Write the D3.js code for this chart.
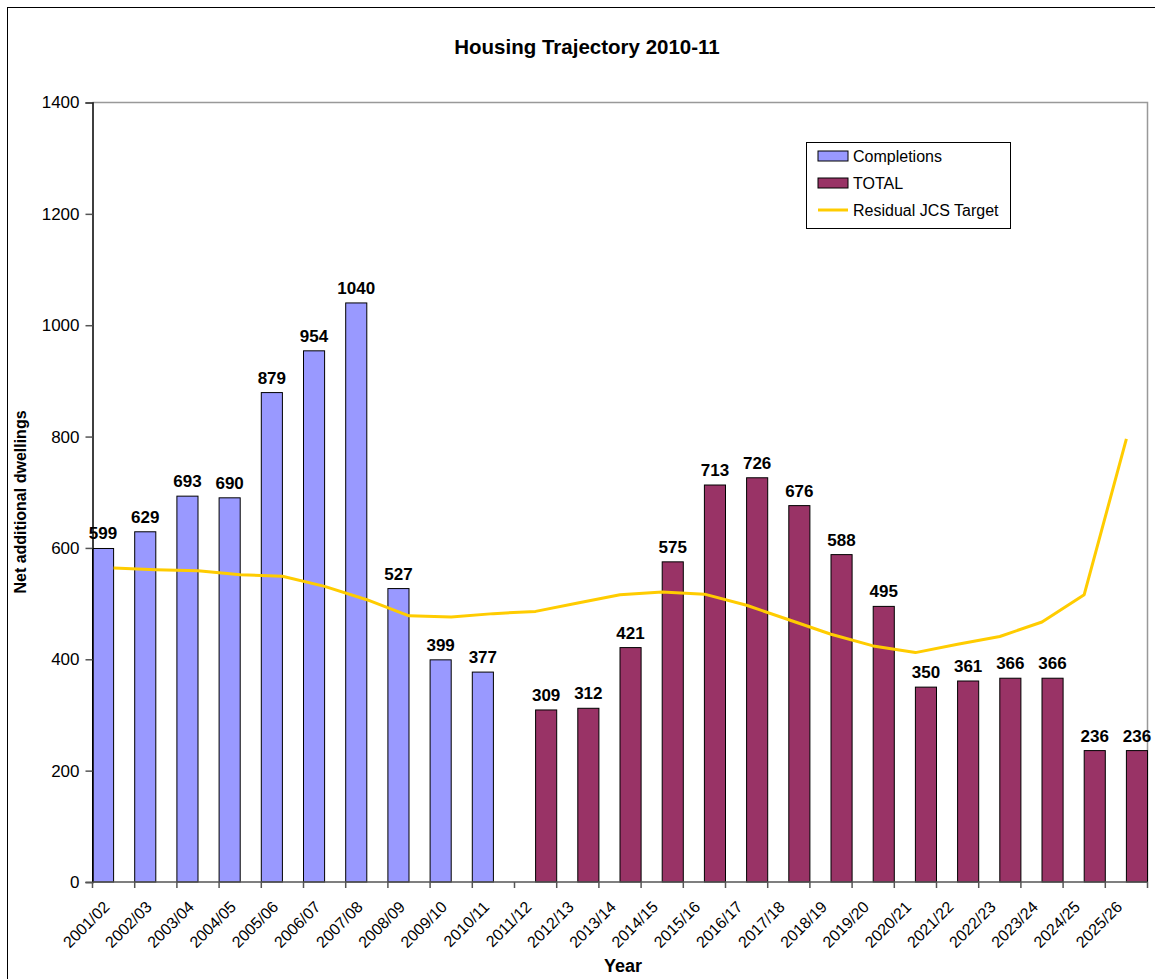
<!DOCTYPE html>
<html>
<head>
<meta charset="utf-8">
<script src="https://cdn.jsdelivr.net/npm/d3@7"></script>
<style>
  html, body { margin: 0; padding: 0; background: #fff; }
  svg { display: block; font-family: "Liberation Sans", Arial, sans-serif; }
</style>
</head>
<body>
<svg id="chart" width="1155" height="979"></svg>
<script>
// Financial years on the category axis
const years = ["2001/02","2002/03","2003/04","2004/05","2005/06","2006/07","2007/08","2008/09",
  "2009/10","2010/11","2011/12","2012/13","2013/14","2014/15","2015/16","2016/17","2017/18",
  "2018/19","2019/20","2020/21","2021/22","2022/23","2023/24","2024/25","2025/26"];

// Recorded completions (2001/02 – 2010/11)
const completionYears = years.slice(0, 10);
const completions = [599, 629, 693, 690, 879, 954, 1040, 527, 399, 377];

// Projected total supply (2011/12 – 2025/26)
const totalYears = years.slice(10);
const totals = [309, 312, 421, 575, 713, 726, 676, 588, 495, 350, 361, 366, 366, 236, 236];

// Residual Joint Core Strategy annual target
const residualTarget = [564, 561, 559, 552, 549, 531, 507, 478, 476, 482, 486, 501, 516, 521,
  517, 497, 471, 445, 424, 412, 427, 441, 467, 516, 796];

const yTicks = [0, 200, 400, 600, 800, 1000, 1200, 1400];
const seriesNames = ["Completions", "TOTAL"];

const colors = { Completions: "#9999FF", TOTAL: "#993366", target: "#FFCC00" };

const svg = d3.select("#chart");
const plot = { left: 92.5, right: 1147.5, top: 102.5, bottom: 882 };

// chart frame
svg.append("rect").attr("x", 7.5).attr("y", 7.5).attr("width", 1200).attr("height", 1100)
  .attr("fill", "none").attr("stroke", "#000").attr("stroke-width", 1);

const x = d3.scaleBand().domain(years).range([plot.left, plot.right]).padding(0);
const xSub = d3.scaleBand().domain(seriesNames).range([0, x.bandwidth()]).padding(0);
const y = d3.scaleLinear().domain([0, 1400]).range([plot.bottom, plot.top]);

// plot area border (top & right)
svg.append("path")
  .attr("d", `M${plot.left},${plot.top}H${plot.right}V${plot.bottom}`)
  .attr("fill", "none").attr("stroke", "#999").attr("stroke-width", 1.5);

// title
svg.append("text").attr("x", 587).attr("y", 54).attr("text-anchor", "middle")
  .attr("font-size", 20.5).attr("font-weight", "bold").text("Housing Trajectory 2010-11");

// bars
const bars = svg.append("g");
bars.selectAll("rect.comp").data(completions).join("rect")
  .attr("x", (d, i) => x(completionYears[i]) + xSub("Completions"))
  .attr("y", d => y(d)).attr("width", xSub.bandwidth()).attr("height", d => y(0) - y(d))
  .attr("fill", colors.Completions).attr("stroke", "#000").attr("stroke-width", 1);
bars.selectAll("rect.tot").data(totals).join("rect")
  .attr("x", (d, i) => x(totalYears[i]) + xSub("TOTAL"))
  .attr("y", d => y(d)).attr("width", xSub.bandwidth()).attr("height", d => y(0) - y(d))
  .attr("fill", colors.TOTAL).attr("stroke", "#000").attr("stroke-width", 1);

// value labels
const labels = svg.append("g").attr("font-size", 17).attr("font-weight", "bold").attr("text-anchor", "middle");
labels.selectAll("text.comp").data(completions).join("text")
  .attr("x", (d, i) => x(completionYears[i]) + xSub("Completions") + xSub.bandwidth() / 2)
  .attr("y", d => y(d) - 9).text(d => d);
labels.selectAll("text.tot").data(totals).join("text")
  .attr("x", (d, i) => x(totalYears[i]) + xSub("TOTAL") + xSub.bandwidth() / 2)
  .attr("y", d => y(d) - 9).text(d => d);

// target line
const line = d3.line().x((d, i) => x(years[i]) + x.bandwidth() / 2).y(d => y(d));
svg.append("path").datum(residualTarget).attr("d", line)
  .attr("fill", "none").attr("stroke", colors.target).attr("stroke-width", 3)
  .attr("stroke-linejoin", "round");

// y axis
const yAxis = d3.axisLeft(y).tickValues(yTicks).tickSize(7).tickPadding(6).tickFormat(d3.format("d"));
const gy = svg.append("g").attr("transform", `translate(${plot.left},0)`).call(yAxis);
gy.select(".domain").attr("stroke", "#000").attr("stroke-width", 1.5);
gy.selectAll(".tick line").attr("stroke", "#555").attr("stroke-width", 1.5);
gy.selectAll(".tick text").attr("font-size", 17).attr("fill", "#000")
  .attr("font-family", "Liberation Sans, Arial, sans-serif");

// x axis: ticks between categories
const gx = svg.append("g").attr("transform", `translate(0,${plot.bottom})`);
gx.append("line").attr("x1", plot.left).attr("x2", plot.right).attr("stroke", "#555").attr("stroke-width", 1.5);
gx.selectAll("line.tk").data(years.concat(["end"])).join("line")
  .attr("x1", (d, i) => plot.left + i * x.bandwidth()).attr("x2", (d, i) => plot.left + i * x.bandwidth())
  .attr("y1", 0).attr("y2", 6).attr("stroke", "#555").attr("stroke-width", 1.5);
gx.selectAll("text").data(years).join("text")
  .attr("transform", d => `translate(${x(d) + x.bandwidth() / 2 - 7},${22}) rotate(-45)`)
  .attr("text-anchor", "end").attr("dy", "0.35em").attr("font-size", 16).text(d => d);

// axis titles
svg.append("text").attr("transform", `translate(20,${502}) rotate(-90)`)
  .attr("text-anchor", "middle").attr("dy", "0.35em").attr("font-size", 16).attr("font-weight", "bold")
  .text("Net additional dwellings");
svg.append("text").attr("x", 623).attr("y", 972).attr("text-anchor", "middle")
  .attr("font-size", 18).attr("font-weight", "bold").text("Year");

// legend
const lg = svg.append("g").attr("transform", "translate(806,142)");
lg.append("rect").attr("x", 0.5).attr("y", 0.5).attr("width", 204).attr("height", 86)
  .attr("fill", "#fff").attr("stroke", "#000").attr("stroke-width", 1);
const legendItems = [
  { name: "Completions", type: "rect", color: colors.Completions },
  { name: "TOTAL", type: "rect", color: colors.TOTAL },
  { name: "Residual JCS Target", type: "line", color: colors.target }
];
legendItems.forEach((it, i) => {
  const cy = 14 + i * 27;
  if (it.type === "rect") {
    lg.append("rect").attr("x", 12).attr("y", cy - 5).attr("width", 30).attr("height", 10)
      .attr("fill", it.color).attr("stroke", "#000").attr("stroke-width", 1);
  } else {
    lg.append("line").attr("x1", 12).attr("x2", 42).attr("y1", cy).attr("y2", cy)
      .attr("stroke", it.color).attr("stroke-width", 3);
  }
  lg.append("text").attr("x", 47).attr("y", cy).attr("dy", "0.35em").attr("font-size", 16).text(it.name);
});
</script>
</body>
</html>
